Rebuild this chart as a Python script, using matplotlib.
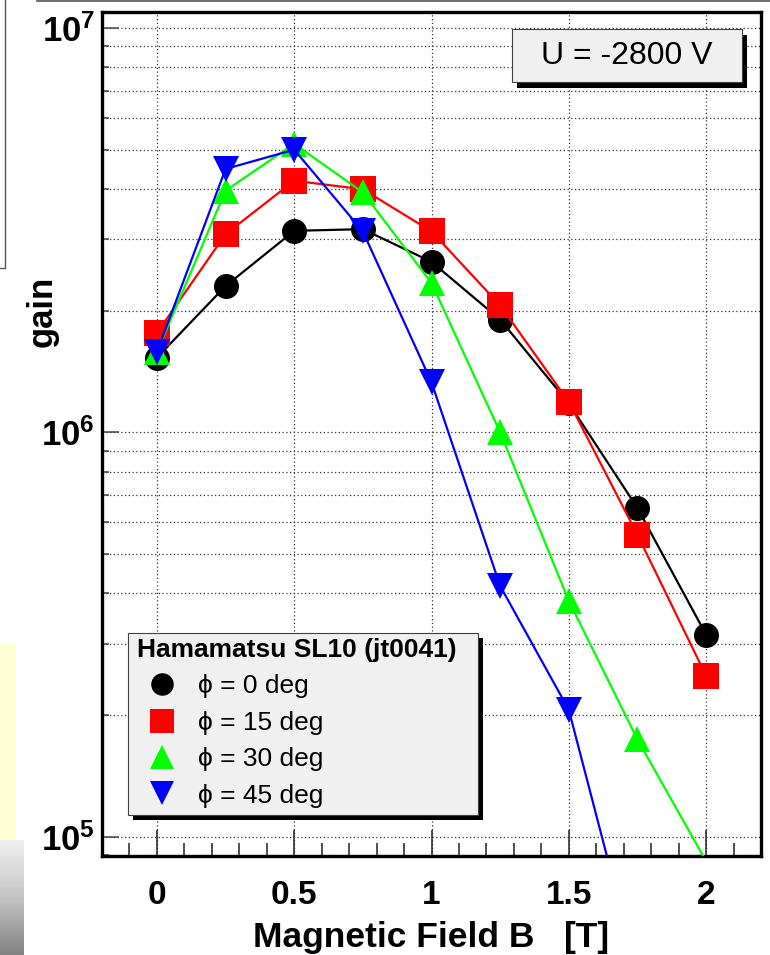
import numpy as np
import matplotlib
matplotlib.use("Agg")
import matplotlib.pyplot as plt
from matplotlib.lines import Line2D
from matplotlib.patches import Rectangle
from matplotlib.ticker import FixedLocator, FixedFormatter, NullFormatter

plt.rcParams['font.family'] = ['Liberation Sans', 'DejaVu Sans']
plt.rcParams['mathtext.fontset'] = 'custom'
plt.rcParams['mathtext.rm'] = 'Liberation Sans'
plt.rcParams['mathtext.bf'] = 'Liberation Sans:bold'

# data
field = [0, 0.25, 0.5, 0.75, 1.0, 1.25, 1.5, 1.75, 2.0]
gain_0 = [1.53e6, 2.30e6, 3.15e6, 3.18e6, 2.64e6, 1.90e6, 1.18e6, 6.5e5, 3.16e5]
gain_15 = [1.76e6, 3.09e6, 4.19e6, 3.99e6, 3.14e6, 2.06e6, 1.19e6, 5.58e5, 2.50e5]
gain_30 = [1.58e6, 3.96e6, 5.17e6, 3.92e6, 2.34e6, 1.0e6, 3.83e5, 1.74e5, 8.7e4]
gain_45 = [1.58e6, 4.48e6, 5.0e6, 3.14e6, 1.33e6, 4.17e5, 2.06e5, 4.6e4]

series_labels = ['\u03d5 = 0 deg', '\u03d5 = 15 deg', '\u03d5 = 30 deg', '\u03d5 = 45 deg']
series_colors = ['black', '#ff0000', '#00ff00', '#0000ff']
series_markers = ['o', 's', '^', 'v']
series_sizes = [18, 19, 19, 19]

x_ticks = [0, 0.5, 1, 1.5, 2]
x_ticklabels = ['0', '0.5', '1', '1.5', '2']
y_ticks = [1e5, 1e6, 1e7]
y_ticklabels = [r'$\mathbf{10^{5}}$', r'$\mathbf{10^{6}}$', r'$\mathbf{10^{7}}$']

ymin, ymax = 8.96e4, 1.095e7

fig = plt.figure(figsize=(7.7, 9.55), dpi=100)
W, H = 770.0, 955.0
ax = fig.add_axes([102 / W, 1 - 856 / H, 659 / W, 844 / H])

all_gains = [gain_0, gain_15, gain_30, gain_45]
for i in range(4):
    g = all_gains[i]
    xs = field[:len(g)]
    show = [v >= ymin for v in g]
    ax.plot(xs, g, color=series_colors[i], lw=1.6,
            marker=series_markers[i], ms=series_sizes[i], mew=0,
            markevery=show, zorder=3 + i)

ax.set_yscale('log')
ax.set_xlim(-0.2, 2.2)
ax.set_ylim(ymin, ymax)

ax.xaxis.set_major_locator(FixedLocator(x_ticks))
ax.xaxis.set_major_formatter(FixedFormatter(x_ticklabels))
ax.xaxis.set_minor_locator(FixedLocator(np.round(np.arange(-0.2, 2.21, 0.1), 2)))
ax.yaxis.set_major_locator(FixedLocator(y_ticks))
ax.yaxis.set_major_formatter(FixedFormatter(y_ticklabels))
minor_y = [m * 10.0 ** e for e in (4, 5, 6) for m in range(2, 10)]
ax.yaxis.set_minor_locator(FixedLocator(minor_y))
ax.yaxis.set_minor_formatter(NullFormatter())

ax.tick_params(axis='x', which='major', direction='in', length=19, width=1.1,
               pad=17, labelsize=24, color='#222222')
ax.tick_params(axis='x', which='minor', direction='in', length=9.5, width=1.1,
               color='#222222')
ax.tick_params(axis='y', which='major', direction='in', length=12, width=1.1,
               pad=5, labelsize=25, color='#444444')
ax.tick_params(axis='y', which='minor', direction='in', length=5, width=1.1,
               color='#444444')
for lab in ax.get_xticklabels():
    lab.set_fontweight('bold')

ax.grid(True, axis='x', which='major', color='#333333', lw=0.9, ls=(0, (1, 2)))
ax.grid(True, axis='y', which='both', color='#333333', lw=0.9, ls=(0, (1, 2)))
ax.set_axisbelow(True)
for sp in ax.spines.values():
    sp.set_linewidth(2.4)

fig.text(431 / W, 1 - 937 / H, 'Magnetic Field B   [T]', ha='center', va='center',
         fontsize=25.5, fontweight='bold')
fig.text(42 / W, 1 - 311 / H, 'gain', ha='center', va='center', rotation=90,
         fontsize=25, fontweight='bold')

# voltage label box with shadow
def ax_frac(px, py):
    return (px - 102) / 659.0, (856 - py) / 844.0

bx0, by0 = ax_frac(512, 82)
bx1, by1 = ax_frac(742, 29)
ax.add_patch(Rectangle((bx0 + 5 / 659, by0 - 6 / 844), bx1 - bx0, by1 - by0,
                       transform=ax.transAxes, facecolor='black', edgecolor='none',
                       zorder=8, clip_on=False))
ax.add_patch(Rectangle((bx0, by0), bx1 - bx0, by1 - by0, transform=ax.transAxes,
                       facecolor='#f0f0f0', edgecolor='#404040', lw=0.8, zorder=9))
ax.text((bx0 + bx1) / 2, (by0 + by1) / 2, 'U = -2800 V', transform=ax.transAxes,
        ha='center', va='center', fontsize=23, zorder=10)

# legend box with shadow
lx0, ly0 = ax_frac(128, 815)
lx1, ly1 = ax_frac(478, 633)
ax.add_patch(Rectangle((lx0 + 5 / 659, ly0 - 5 / 844), lx1 - lx0, ly1 - ly0,
                       transform=ax.transAxes, facecolor='black', edgecolor='none',
                       zorder=8))
ax.add_patch(Rectangle((lx0, ly0), lx1 - lx0, ly1 - ly0, transform=ax.transAxes,
                       facecolor='#f0f0f0', edgecolor='#404040', lw=0.8, zorder=9))
handles = []
for i in range(4):
    handles.append(Line2D([], [], ls='none', marker=series_markers[i],
                          color=series_colors[i], ms=series_sizes[i] * 0.9, mew=0))
tx, ty = ax_frac(137, 638)
leg = ax.legend(handles, series_labels, loc='upper left', bbox_to_anchor=(tx, ty),
                frameon=False, fontsize=19, borderpad=0, borderaxespad=0,
                handlelength=1.9, handletextpad=0.4, labelspacing=0.47,
                title='Hamamatsu SL10 (jt0041)', alignment='left',
                title_fontproperties={'weight': 'bold', 'size': 19})
leg.set_zorder(11)

# bits of the surrounding screenshot
fig.add_artist(Line2D([37 / W, 1], [1 - 1 / H, 1 - 1 / H], color='#555555', lw=1.2))
fig.add_artist(Line2D([5 / W, 5 / W, 0], [1, 1 - 268 / H, 1 - 268 / H], color='#555555', lw=1))
fig.add_artist(Rectangle((0, 1 - 840 / H), 16 / W, 197 / H, transform=fig.transFigure,
                         facecolor='#ffffd2', edgecolor='none'))
gax = fig.add_axes([0, 0, 24 / W, 115 / H])
gax.imshow(np.linspace(0, 1, 50).reshape(-1, 1), cmap='Greys', vmin=-0.3, vmax=2.0,
           aspect='auto')
gax.axis('off')

fig.savefig('out.png', dpi=100)
